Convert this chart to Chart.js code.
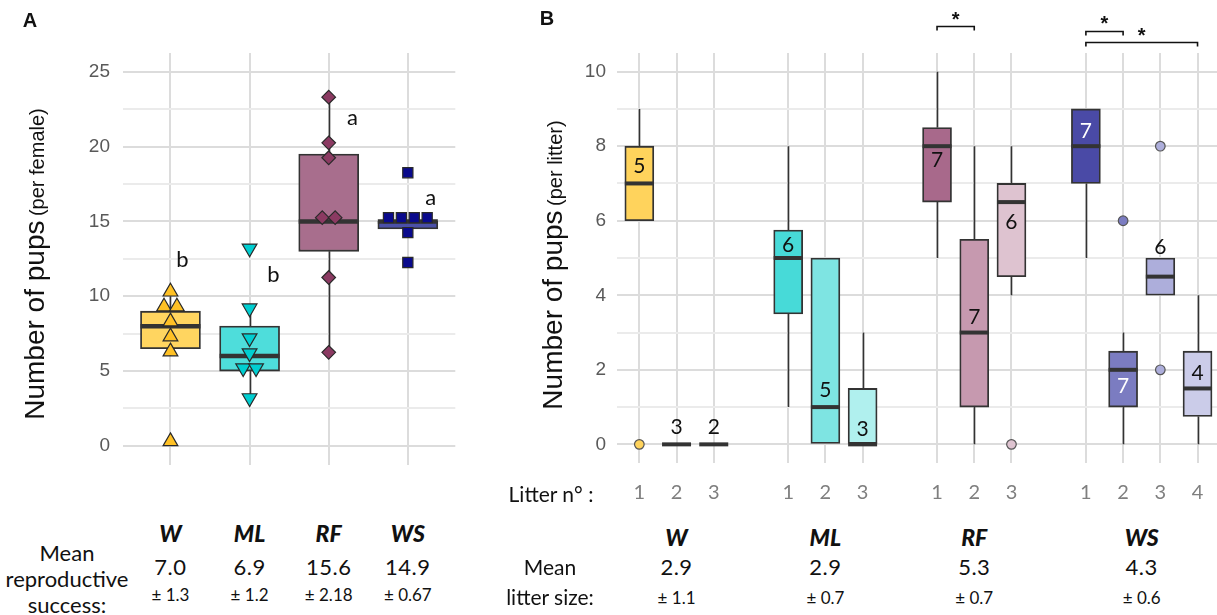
<!DOCTYPE html>
<html>
<head>
<meta charset="utf-8">
<script src="https://cdn.jsdelivr.net/npm/chart.js@4.4.1/dist/chart.umd.min.js"></script>
<style>
  body { margin: 0; width: 1217px; height: 615px; background: #fff; position: relative; overflow: hidden; font-family: Lato, 'Noto Sans', sans-serif; color: #111; }
  canvas { position: absolute; top: 0; }
  .t { position: absolute; transform: translate(-50%, -50%); white-space: nowrap; line-height: 1; }
  .ytitle { transform: translate(-50%, -50%) rotate(-90deg); font-family: 'Liberation Sans', Arial, sans-serif; color: #111; }
  .ytitle .big { font-size: 28px; }
  .ytitle .small { font-size: 20px; }
  .grp { font-weight: 900; font-style: italic; font-size: 23px; }
  .mean { font-size: 22px; letter-spacing: 0.5px; }
  .sd { font-size: 17px; }
  .lbl { font-size: 22px; text-align: center; line-height: 26px; }
</style>
</head>
<body>
<canvas id="chartA" width="465" height="489" style="left:0"></canvas>
<canvas id="chartB" width="704" height="505" style="left:520px"></canvas>

<div class="t" style="left:30px;top:20px;font:bold 20px 'Liberation Sans',Arial">A</div>
<div class="t" style="left:547px;top:18px;font:bold 20px 'Liberation Sans',Arial">B</div>
<div class="t ytitle" style="left:35px;top:264px"><span class="big">Number of pups</span> <span class="small">(per female)</span></div>
<div class="t ytitle" style="left:553px;top:265px"><span class="big">Number of pups</span> <span class="small">(per litter)</span></div>

<div class="t lbl" style="left:67px;top:579px">Mean<br>reproductive<br>success:</div>
<div class="t" style="left:551px;top:493px;font-size:21px">Litter n° :</div>
<div class="t lbl" style="left:550px;top:582px;line-height:30px;font-size:21px">Mean<br>litter size:</div>
<div id="tables"></div>

<script>
const groups = ['W', 'ML', 'RF', 'WS'];

// Panel A - pups per female (points as plotted)
const pupsW  = [10.3, 9.3, 9.3, 8.3, 7.3, 6.3, 0.3];
const pupsML = [13.2, 9.2, 7.2, 6.2, 5.2, 5.2, 3.2];
const pupsRF = [23.3, 20.25, 19.25, 15.25, 15.25, 11.25, 6.25];
const pupsWS = [18.25, 15.25, 15.25, 15.25, 15.25, 14.25, 12.25];

const lowA  = [6, 3, 6, 14];
const q1A   = [6.5, 5, 13, 14.5];
const medA  = [8, 6, 15, 15];
const q3A   = [9, 8, 19.5, 15];
const highA = [10, 9, 23, 15];

const letters  = ['b', 'b', 'a', 'a'];
const letterX  = [1.15, 2.3, 3.3, 4.29];
const letterY  = [12.4, 11.4, 21.9, 16.6];

const meanA = ['7.0', '6.9', '15.6', '14.9'];
const sdA   = ['± 1.3', '± 1.2', '± 2.18', '± 0.67'];

// Panel B - pups per litter
const litterPos = [1, 2, 3, 5, 6, 7, 9, 10, 11, 13, 14, 15, 16];
const litterNo  = [1, 2, 3, 1, 2, 3, 1, 2, 3, 1, 2, 3, 4];
const lowB  = [6, 0, 0, 1, 0, 0, 5, 0, 4, 5, 0, 4, 0];
const q1B   = [6, 0, 0, 3.5, 0, 0, 6.5, 1, 4.5, 7, 1, 4, 0.75];
const medB  = [7, 0, 0, 5, 1, 0, 8, 3, 6.5, 8, 2, 4.5, 1.5];
const q3B   = [8, 0, 0, 5.75, 5, 1.5, 8.5, 5.5, 7, 9, 2.5, 5, 2.5];
const highB = [9, 0, 0, 8, 5, 3, 10, 8, 8, 9, 3, 5, 4];
const countN = [5, 3, 2, 6, 5, 3, 7, 7, 6, 7, 7, 6, 4];
const countY = [7.45, 0.45, 0.45, 5.35, 1.45, 0.4, 7.63, 3.42, 5.97, 8.4, 1.55, 5.3, 1.9];
const outPos = [1, 11, 14, 15, 15];
const outVal = [0, 0, 6, 8, 2];

const groupCenterB = [2, 6, 10, 14.5];
const meanB = ['2.9', '2.9', '5.3', '4.3'];
const sdB   = ['± 1.1', '± 0.7', '± 0.7', '± 0.6'];

// significance brackets: from, to, bracket level, star level
const sigFrom = [9, 13, 13];
const sigTo   = [10, 14, 16];
const sigLine = [11.23, 11.09, 10.8];
const sigStar = [11.52, 11.41, 11.1];

const colA = ['#FFD560', '#4EDDDB', '#A86E8D', '#4B50A8'];
const ptA  = ['#FFC125', '#00CED1', '#8B3A62', '#0A0A8C'];
const colB = ['#FFD35C', '#FFD35C', '#FFD35C',
              '#47DAD8', '#7EE4E2', '#B0F0EE',
              '#A8698B', '#C699AF', '#DEC3D0',
              '#4A4AA6', '#7B7CC1', '#ADAEDB', '#CBCCE9'];
const darkBox = [9, 10];

const GRID = '#DCDCDC', GRID_MINOR = '#EBEBEB', INK = '#333';

function swarm(values, center, step) {
  const total = {}, used = {};
  values.forEach(v => total[v] = (total[v] || 0) + 1);
  return values.map(v => {
    used[v] = (used[v] === undefined ? 0 : used[v] + 1);
    return { x: center + (used[v] - (total[v] - 1) / 2) * step, y: v };
  });
}

function boxParts(cfg) {
  return {
    id: 'boxParts',
    beforeDatasetsDraw(chart) {
      const { ctx, scales: { x, y } } = chart;
      ctx.save();
      ctx.strokeStyle = INK;
      ctx.lineWidth = 1.6;
      cfg.pos.forEach((p, i) => {
        const px = Math.round(x.getPixelForValue(p)) + 0.5;
        ctx.beginPath();
        ctx.moveTo(px, y.getPixelForValue(cfg.low[i]));
        ctx.lineTo(px, y.getPixelForValue(cfg.q1[i]));
        ctx.moveTo(px, y.getPixelForValue(cfg.q3[i]));
        ctx.lineTo(px, y.getPixelForValue(cfg.high[i]));
        ctx.stroke();
      });
      ctx.restore();
    },
    afterDatasetDraw(chart, args) {
      if (args.index !== 0) return;
      const { ctx, scales: { x, y } } = chart;
      const bars = chart.getDatasetMeta(0).data;
      ctx.save();
      ctx.strokeStyle = INK;
      ctx.lineWidth = cfg.medWidth;
      cfg.pos.forEach((p, i) => {
        const px = x.getPixelForValue(p), w = bars[i].width;
        const py = y.getPixelForValue(cfg.med[i]);
        ctx.beginPath();
        ctx.moveTo(px - w / 2, py);
        ctx.lineTo(px + w / 2, py);
        ctx.stroke();
      });
      ctx.restore();
    },
    afterDraw(chart) {
      const { ctx, scales: { x, y } } = chart;
      ctx.save();
      ctx.textAlign = 'center';
      ctx.textBaseline = 'middle';
      ctx.font = '22px Lato, sans-serif';
      if (cfg.letters) {
        cfg.letters.forEach((l, i) => {
          ctx.fillStyle = '#111';
          ctx.fillText(l, x.getPixelForValue(cfg.letterX[i]), y.getPixelForValue(cfg.letterY[i]));
        });
      }
      if (cfg.counts) {
        ctx.font = '21px Lato, sans-serif';
        cfg.counts.forEach((n, i) => {
          ctx.fillStyle = darkBox.includes(i) ? '#fff' : '#111';
          ctx.fillText(String(n), x.getPixelForValue(cfg.pos[i]), y.getPixelForValue(cfg.countY[i]));
        });
      }
      if (cfg.sig) {
        ctx.strokeStyle = '#111';
        ctx.fillStyle = '#111';
        ctx.lineWidth = 1.6;
        ctx.font = 'bold 20px "Liberation Sans", Arial';
        ctx.textBaseline = 'alphabetic';
        sigFrom.forEach((f, i) => {
          const x0 = x.getPixelForValue(f), x1 = x.getPixelForValue(sigTo[i]);
          const ly = Math.round(y.getPixelForValue(sigLine[i])) + 0.5;
          ctx.beginPath();
          ctx.moveTo(x0, ly + 4);
          ctx.lineTo(x0, ly);
          ctx.lineTo(x1, ly);
          ctx.lineTo(x1, ly + 4);
          ctx.stroke();
          ctx.fillText('*', (x0 + x1) / 2, y.getPixelForValue(sigStar[i]) + 11);
        });
      }
      ctx.restore();
    }
  };
}

const baseGridY = (major) => ({
  color: (c) => (c.tick && Math.abs(c.tick.value % major) < 1e-6) ? GRID : GRID_MINOR,
  lineWidth: 2,
  drawTicks: false
});

// ---------- Panel A ----------
const pointStyles = ['triangle', 'triangle', 'rectRot', 'rect'];
const pointRot = [0, 180, 0, 0];
const pointRad = [8.5, 8.5, 6.8, 7.2];
const pupsAll = [pupsW, pupsML, pupsRF, pupsWS];

const chartA = new Chart(document.getElementById('chartA'), {
  type: 'bar',
  data: {
    datasets: [
      {
        type: 'bar',
        order: 2,
        data: groups.map((g, i) => ({ x: i + 1, y: [q1A[i], q3A[i]] })),
        backgroundColor: colA,
        borderColor: INK,
        borderWidth: 1.8,
        borderSkipped: false,
        barThickness: 60
      },
      ...pupsAll.map((vals, i) => ({
        type: 'scatter',
        order: 1,
        data: swarm(vals, i + 1, 0.163),
        pointStyle: pointStyles[i],
        rotation: pointRot[i],
        radius: pointRad[i],
        backgroundColor: ptA[i],
        borderColor: '#2a2a2a',
        borderWidth: 1.2
      }))
    ]
  },
  options: {
    responsive: false,
    animation: false,
    layout: { padding: { top: 53, bottom: 0, left: 0, right: 0 } },
    plugins: { legend: { display: false }, tooltip: { enabled: false } },
    scales: {
      x: {
        type: 'linear', min: 0.4, max: 4.6, offset: false,
        afterBuildTicks: (s) => { s.ticks = groups.map((g, i) => ({ value: i + 1 })); },
        afterFit: (s) => { s.height = 17; },
        ticks: { display: false },
        grid: { color: GRID, lineWidth: 2, drawTicks: false, offset: false },
        border: { display: false }
      },
      y: {
        type: 'linear', min: -1.25, max: 26.25,
        afterBuildTicks: (s) => { s.ticks = [0, 2.5, 5, 7.5, 10, 12.5, 15, 17.5, 20, 22.5, 25].map(v => ({ value: v })); },
        afterFit: (s) => { s.width = 123; },
        ticks: {
          padding: 13, color: '#595959',
          font: { family: "'Liberation Sans', Arial", size: 19 },
          callback: (v) => (v % 5 === 0 ? v : '')
        },
        grid: baseGridY(5),
        border: { display: false }
      }
    }
  },
  plugins: [boxParts({
    pos: [1, 2, 3, 4], low: lowA, q1: q1A, med: medA, q3: q3A, high: highA,
    medWidth: 4.5, letters: letters, letterX: letterX, letterY: letterY
  })]
});

// ---------- Panel B ----------
const chartB = new Chart(document.getElementById('chartB'), {
  type: 'bar',
  data: {
    datasets: [
      {
        type: 'bar',
        order: 2,
        data: litterPos.map((p, i) => ({ x: p, y: [q1B[i], q3B[i]] })),
        backgroundColor: colB,
        borderColor: INK,
        borderWidth: 1.8,
        borderSkipped: false,
        barThickness: 29
      },
      {
        type: 'scatter',
        order: 1,
        data: outPos.map((p, i) => ({ x: p, y: outVal[i] })),
        pointStyle: 'circle',
        radius: 4.8,
        backgroundColor: outPos.map(p => colB[litterPos.indexOf(p)]),
        borderColor: '#555',
        borderWidth: 1.2
      }
    ]
  },
  options: {
    responsive: false,
    animation: false,
    layout: { padding: { top: 53, bottom: 0, left: 0, right: 0 } },
    plugins: { legend: { display: false }, tooltip: { enabled: false } },
    scales: {
      x: {
        type: 'linear', min: 0.4, max: 16.55, offset: false,
        afterBuildTicks: (s) => { s.ticks = litterPos.map(v => ({ value: v })); },
        afterFit: (s) => { s.height = 42; },
        ticks: {
          autoSkip: false, maxRotation: 0, padding: 18, color: '#7F7F7F',
          font: { family: 'Lato, sans-serif', size: 20 },
          callback: (v, i) => litterNo[i]
        },
        grid: { color: GRID, lineWidth: 2, drawTicks: false, offset: false },
        border: { display: false }
      },
      y: {
        type: 'linear', min: -0.5, max: 10.5,
        afterBuildTicks: (s) => { s.ticks = [0, 1, 2, 3, 4, 5, 6, 7, 8, 9, 10].map(v => ({ value: v })); },
        afterFit: (s) => { s.width = 97; },
        ticks: {
          padding: 11, color: '#595959',
          font: { family: "'Liberation Sans', Arial", size: 19 },
          callback: (v) => (v % 2 === 0 ? v : '')
        },
        grid: baseGridY(2),
        border: { display: false }
      }
    }
  },
  plugins: [boxParts({
    pos: litterPos, low: lowB, q1: q1B, med: medB, q3: q3B, high: highB,
    medWidth: 4, counts: countN, countY: countY, sig: true
  })]
});

// ---------- tables under the panels ----------
const tables = document.getElementById('tables');
function addText(cls, text, left, top) {
  const d = document.createElement('div');
  d.className = 't ' + cls;
  d.textContent = text;
  d.style.left = left + 'px';
  d.style.top = top + 'px';
  tables.appendChild(d);
}
groups.forEach((g, i) => {
  const xa = chartA.scales.x.getPixelForValue(i + 1);
  addText('grp', g, xa, 533);
  addText('mean', meanA[i], xa, 567);
  addText('sd', sdA[i], xa, 594);
  const xb = 520 + chartB.scales.x.getPixelForValue(groupCenterB[i]);
  addText('grp', g, xb, 537);
  addText('mean', meanB[i], xb, 567);
  addText('sd', sdB[i], xb, 597);
});
</script>
</body>
</html>
